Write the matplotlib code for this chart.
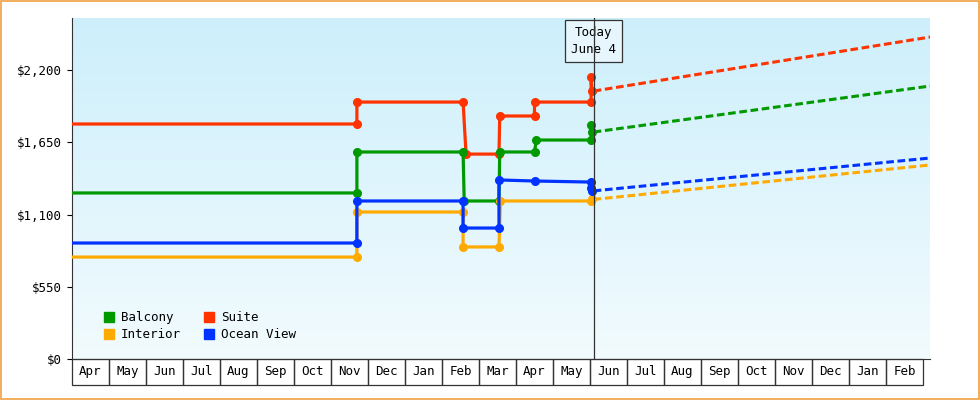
import matplotlib.pyplot as plt
import numpy as np
from matplotlib.patches import Rectangle
from matplotlib.lines import Line2D
from matplotlib.colors import LinearSegmentedColormap

plt.rcParams['font.family'] = ['DejaVu Sans Mono']

months = ["Apr", "May", "Jun", "Jul", "Aug", "Sep", "Oct", "Nov", "Dec", "Jan", "Feb", "Mar",
          "Apr", "May", "Jun", "Jul", "Aug", "Sep", "Oct", "Nov", "Dec", "Jan", "Feb"]
today = 14.1

# history (month index, price)
suite_x = [0, 7.7, 7.7, 10.57, 10.65, 11.54, 11.56, 12.5, 12.5, 14.03, 14.03, 14.05]
suite_y = [1789, 1789, 1956, 1956, 1560, 1560, 1850, 1850, 1956, 1956, 2147, 2040]
balcony_x = [0, 7.7, 7.7, 10.57, 10.6, 11.54, 11.56, 12.5, 12.55, 14.03, 14.03, 14.05]
balcony_y = [1264, 1264, 1576, 1576, 1203, 1203, 1576, 1576, 1667, 1667, 1781, 1728]
ocean_x = [0, 7.7, 7.7, 10.57, 10.57, 11.54, 11.54, 12.5, 14.03, 14.03, 14.05]
ocean_y = [883, 883, 1203, 1203, 997, 997, 1363, 1355, 1347, 1300, 1280]
interior_x = [0, 7.7, 7.7, 10.57, 10.57, 11.54, 11.58, 14.03, 14.05]
interior_y = [776, 776, 1119, 1119, 853, 853, 1203, 1203, 1215]

# forecast end values
forecast_end = {"Suite": 2451, "Balcony": 2078, "Ocean View": 1530, "Interior": 1477}

series = [
    ("Suite", suite_x, suite_y, "#ff3300"),
    ("Balcony", balcony_x, balcony_y, "#009900"),
    ("Interior", interior_x, interior_y, "#ffaa00"),
    ("Ocean View", ocean_x, ocean_y, "#0033ff"),
]

fig = plt.figure(figsize=(9.8, 4.0), dpi=100)
fig.patch.set_facecolor("white")
fig.add_artist(Rectangle((0.001, 0.002), 0.998, 0.996, transform=fig.transFigure,
                         fill=False, edgecolor="#f0a040", lw=1.2))
ax = fig.add_axes([72 / 980, 41 / 400, 858 / 980, 341 / 400])
xmax = 858 / 37.0
ax.set_xlim(0, xmax)
ax.set_ylim(0, 2596)

grad = np.linspace(0, 1, 256).reshape(-1, 1)
cm = LinearSegmentedColormap.from_list("bg", ["#f2fbfe", "#cdeffb"])
ax.imshow(grad, aspect="auto", cmap=cm, origin="lower", extent=[0, xmax, 0, 2596], zorder=0)

for name, xs, ys, c in series:
    ax.plot(xs, ys, color=c, lw=2.3, marker="o", ms=5.5, markevery=list(range(1, len(xs))),
            zorder=3)
    ax.plot([xs[-1] + 0.05, xmax], [ys[-1], forecast_end[name]], color=c, lw=2.2,
            ls=(0, (2.5, 1.2)), zorder=3)

ax.axvline(today, color="#333333", lw=0.9, zorder=4)
ax.annotate("Today\nJune 4", xy=(today, 2420), xycoords="data", ha="center", va="center",
            fontsize=9, annotation_clip=False, linespacing=1.4,
            bbox=dict(boxstyle="square,pad=0.5", fc="#e6f6fc", ec="#333333", lw=0.9))

ax.set_yticks([0, 550, 1100, 1650, 2200])
ax.set_yticklabels(["$0", "$550", "$1,100", "$1,650", "$2,200"], fontsize=9)
ax.set_xticks([])
for s in ["top", "right"]:
    ax.spines[s].set_visible(False)
ax.spines["left"].set_color("#333333")
ax.spines["bottom"].set_color("#333333")

for i, m in enumerate(months):
    ax.add_patch(Rectangle((i, -0.075), 1, 0.075, transform=ax.get_xaxis_transform(),
                           fill=False, ec="#333333", lw=0.9, clip_on=False))
    ax.text(i + 0.5, -0.0375, m, transform=ax.get_xaxis_transform(), ha="center",
            va="center", fontsize=9)

handles = [Line2D([], [], ls="", marker="s", ms=7, color=c) for _, _, _, c in
           [series[1], series[2], series[0], series[3]]]
labels = ["Balcony", "Interior", "Suite", "Ocean View"]
ax.legend(handles, labels, ncol=2, loc="lower left", bbox_to_anchor=(0.015, 0.02),
          frameon=False, fontsize=9, handletextpad=0.0, columnspacing=1.2,
          labelspacing=0.3)

fig.savefig("out.png", dpi=100)
